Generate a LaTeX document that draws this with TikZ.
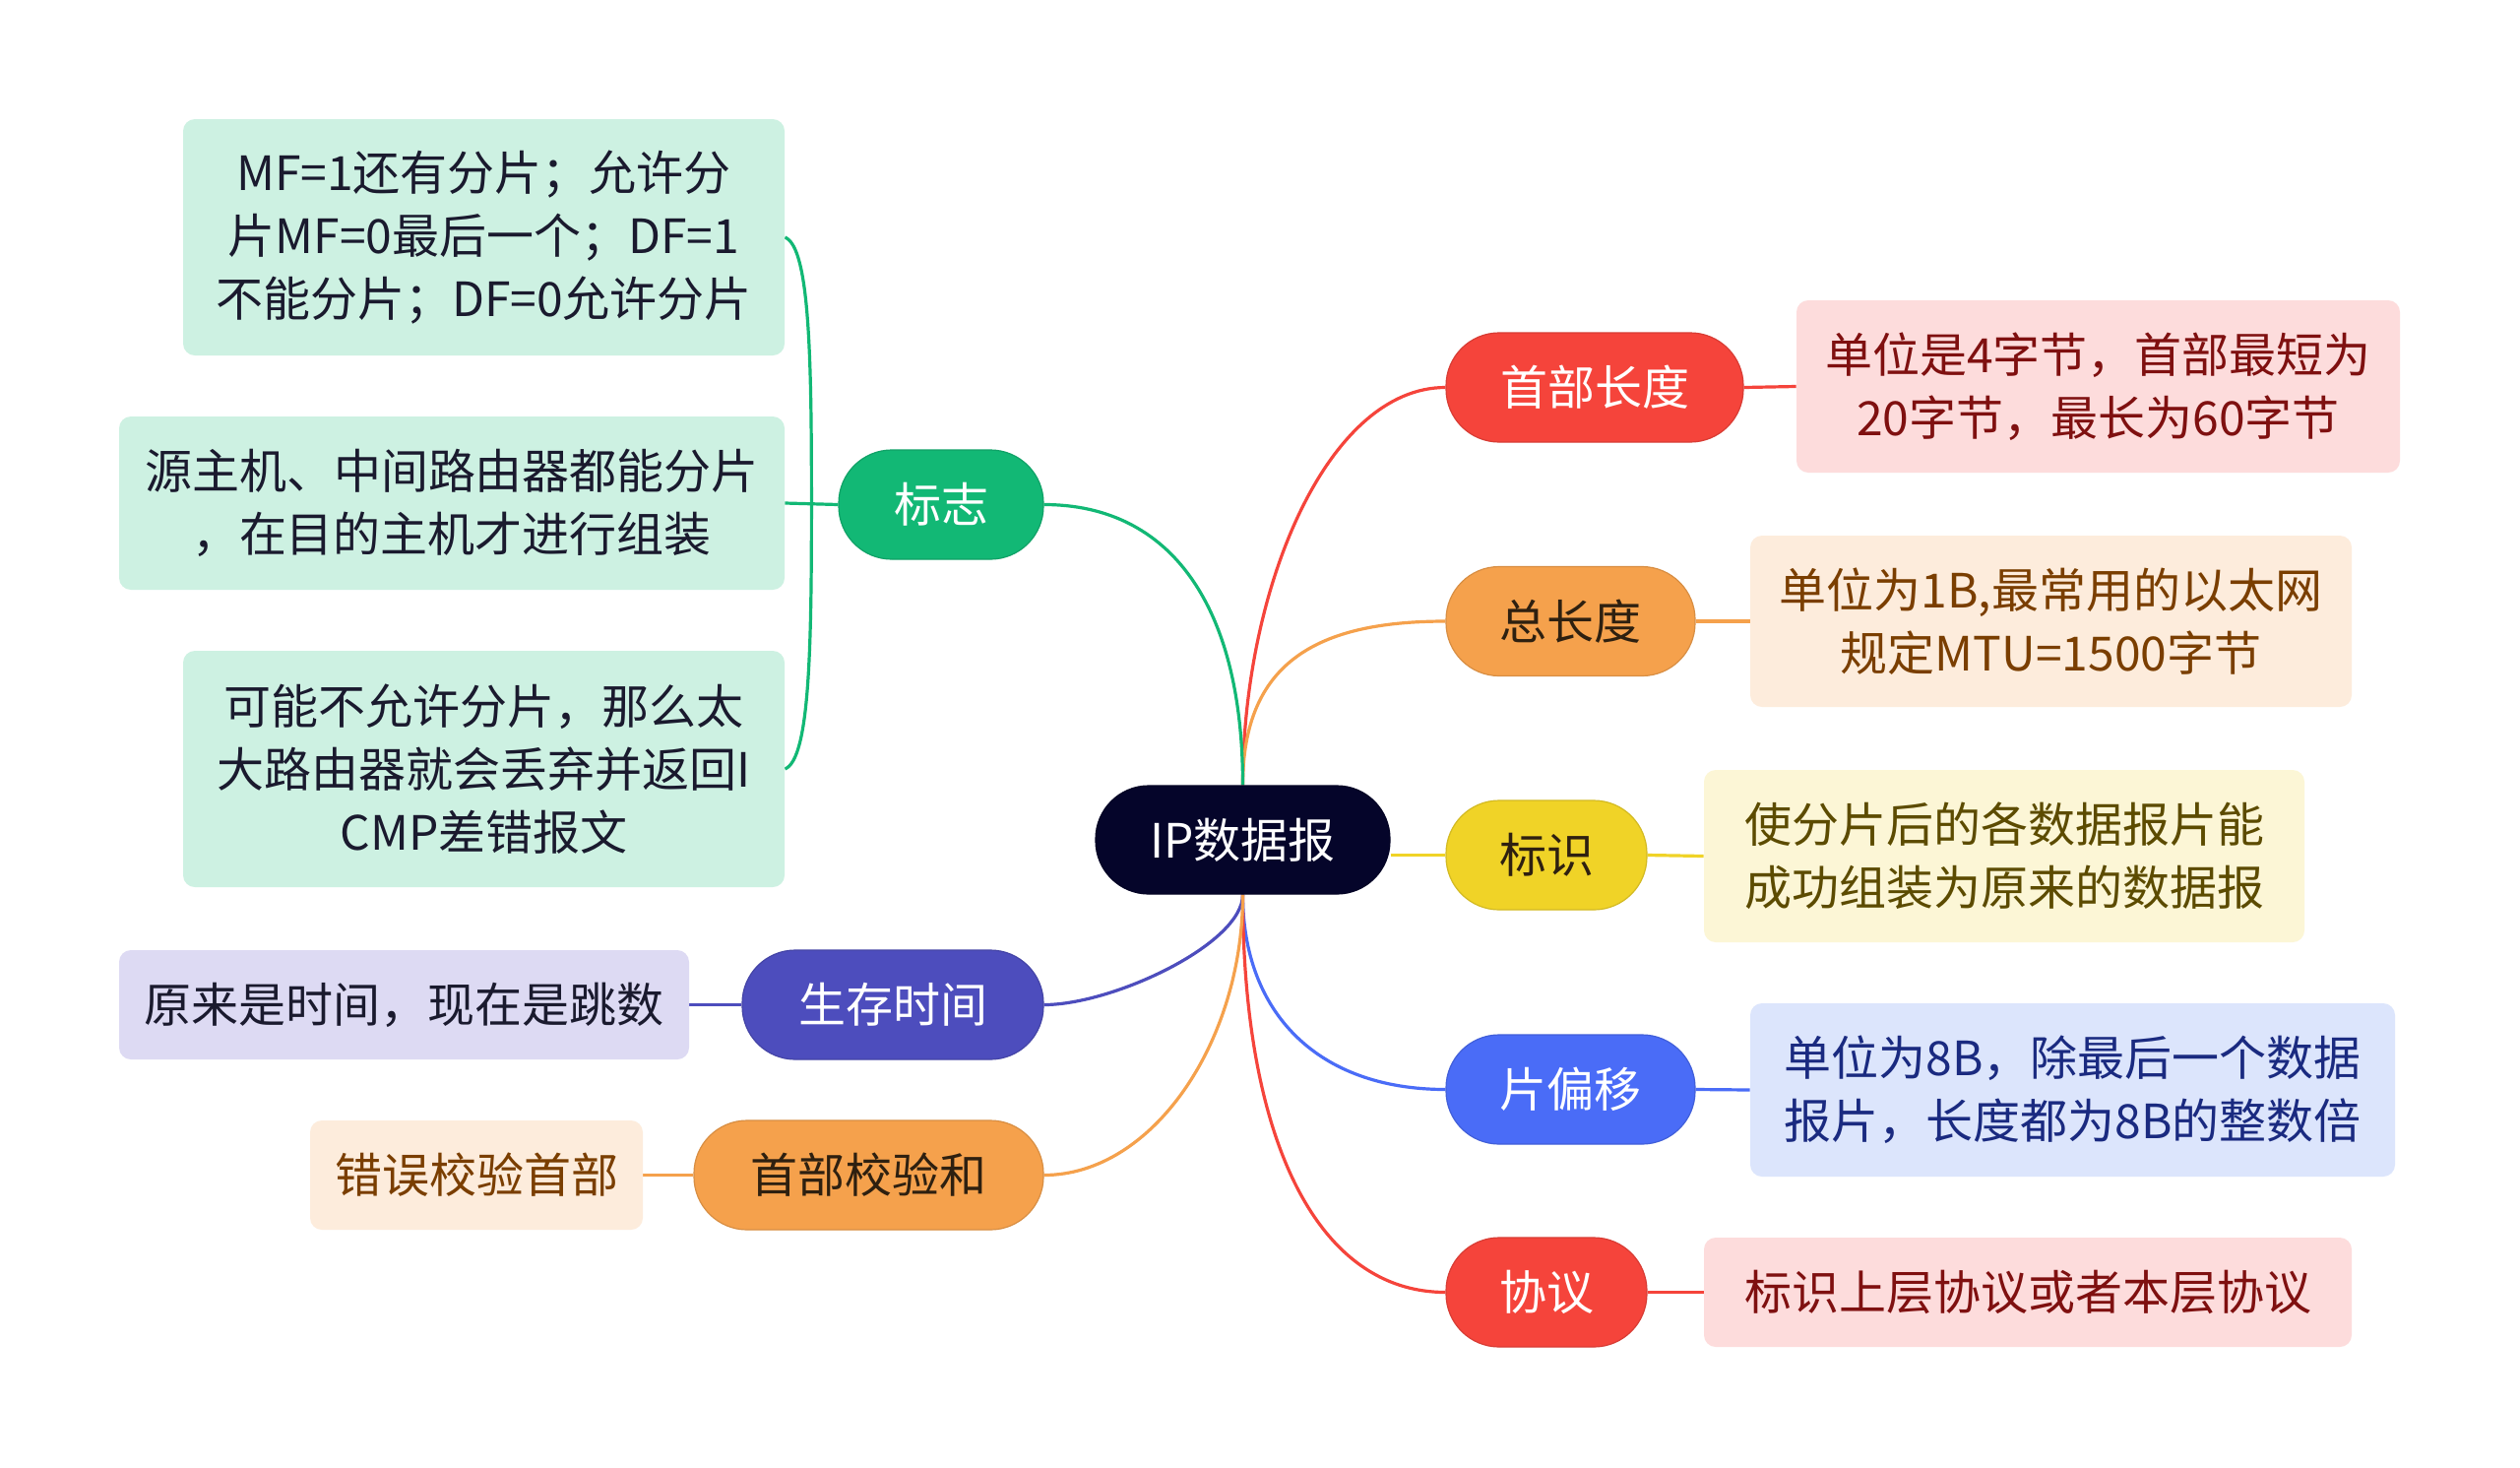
\documentclass[tikz,border=0pt]{standalone}
\usepackage{fontspec}
\setmainfont{Noto Sans CJK SC}
\usetikzlibrary{calc,backgrounds}
\definecolor{cCenter}{HTML}{05052A}
\definecolor{cRed}{HTML}{F5443B}
\definecolor{cOrange}{HTML}{F5A14C}
\definecolor{cYellow}{HTML}{F0D327}
\definecolor{cBlue}{HTML}{4A6CF7}
\definecolor{cGreen}{HTML}{12B875}
\definecolor{cPurple}{HTML}{4D4DBD}
\definecolor{lRed}{HTML}{FDDCDC}
\definecolor{lOrange}{HTML}{FDECDC}
\definecolor{lYellow}{HTML}{FCF6D6}
\definecolor{lBlue}{HTML}{DCE5FC}
\definecolor{lGreen}{HTML}{CDF1E2}
\definecolor{lPurple}{HTML}{DDDAF3}
\definecolor{tRed}{HTML}{7F1010}
\definecolor{tBrown}{HTML}{7A3E00}
\definecolor{tOlive}{HTML}{5C4B00}
\definecolor{tNavy}{HTML}{1A2A80}
\definecolor{tDark}{HTML}{1A1A2E}
\definecolor{tPill}{HTML}{2E2010}
\tikzset{
  pill/.style={rectangle, rounded corners=27pt, minimum height=55.5pt, inner sep=0pt,
    font=\fontsize{24}{32}\selectfont, draw=#1!88!black, line width=0.6pt, fill=#1},
  leaf/.style={rectangle, rounded corners=6pt, inner sep=0pt, align=center,
    font=\fontsize{24}{32}\selectfont, fill=#1},
  conn/.style={line width=1.6pt, draw=#1},
}
\begin{document}
\begin{tikzpicture}[x=0.5pt,y=-0.5pt]
\useasboundingbox (0,0) rectangle (2560,1490);

% center
\node[pill=cCenter, minimum width=149.5pt, minimum height=55pt, text=white] (c) at (1262.5,853) {IP数据报};

% right pills
\node[pill=cRed, minimum width=151pt, text=white] (n1) at (1620,393.5) {首部长度};
\node[pill=cOrange, minimum width=126.5pt, text=tPill] (n2) at (1595.5,631) {总长度};
\node[pill=cYellow, minimum width=102pt, text=tPill] (n3) at (1571,868.5) {标识};
\node[pill=cBlue, minimum width=126.5pt, text=white] (n4) at (1595.5,1106.5) {片偏移};
\node[pill=cRed, minimum width=102pt, text=white] (n5) at (1571,1312.5) {协议};

% left pills
\node[pill=cGreen, minimum width=104pt, text=white] (m1) at (956,512.5) {标志};
\node[pill=cPurple, minimum width=153pt, text=white] (m2) at (907,1020.5) {生存时间};
\node[pill=cOrange, minimum width=177.5pt, text=tPill] (m3) at (882.5,1193.5) {首部校验和};

% right leaves
\node[leaf=lRed, minimum width=306.5pt, minimum height=87.5pt, text=tRed] (r1) at (2131.5,392.5) {单位是4字节，首部最短为\\20字节，最长为60字节};
\node[leaf=lOrange, minimum width=305.5pt, minimum height=87pt, text=tBrown] (r2) at (2083.5,631) {单位为1B,最常用的以太网\\规定MTU=1500字节};
\node[leaf=lYellow, minimum width=305pt, minimum height=87.5pt, text=tOlive] (r3) at (2036,869.5) {使分片后的各数据报片能\\成功组装为原来的数据报};
\node[leaf=lBlue, minimum width=327.5pt, minimum height=88pt, text=tNavy] (r4) at (2105.5,1107) {单位为8B，除最后一个数据\\报片，长度都为8B的整数倍};
\node[leaf=lRed, minimum width=329pt, minimum height=55.5pt, text=tRed] (r5) at (2060,1312.5) {标识上层协议或者本层协议};

% left leaves
\node[leaf=lGreen, minimum width=305.5pt, minimum height=120pt, text=tDark] (l1) at (491.5,241) {MF=1还有分片；允许分\\片MF=0最后一个；DF=1\\不能分片；DF=0允许分片};
\node[leaf=lGreen, minimum width=338pt, minimum height=88pt, text=tDark] (l2) at (459,511) {源主机、中间路由器都能分片\\，在目的主机才进行组装};
\node[leaf=lGreen, minimum width=305.5pt, minimum height=120pt, text=tDark] (l3) at (491.5,781) {可能不允许分片，那么太\\大路由器就会丢弃并返回I\\CMP差错报文};
\node[leaf=lPurple, minimum width=289.5pt, minimum height=55.5pt, text=tDark] (l4) at (410.5,1020.5) {原来是时间，现在是跳数};
\node[leaf=lOrange, minimum width=169pt, minimum height=55.5pt, text=tBrown] (l5) at (484,1193.5) {错误校验首部};

\begin{scope}[on background layer]
\fill[white] (0,0) rectangle (2560,1490);
% center connectors
\draw[conn=cRed] (c.north) .. controls +(0,-200) and +(-120,0) .. (n1.west);
\draw[conn=cOrange] (c.north) .. controls +(0,-125) and +(-130,0) .. (n2.west);
\draw[conn=cYellow] (n3.west -| c.east) -- (n3.west);
\draw[conn=cBlue] (c.south) .. controls +(0,120) and +(-130,0) .. (n4.west);
\draw[conn=cRed] (c.south) .. controls +(0,250) and +(-130,0) .. (n5.west);
\draw[conn=cGreen] (c.north) .. controls +(0,-180) and +(130,0) .. (m1.east);
\draw[conn=cPurple] (c.south) .. controls +(0,50) and +(70,0) .. (m2.east);
\draw[conn=cOrange] (c.south) .. controls +(0,150) and +(110,0) .. (m3.east);
% pill to leaf
\draw[conn=cRed] (n1.east) -- (r1.west);
\draw[conn=cOrange] (n2.east) -- (r2.west);
\draw[conn=cYellow] (n3.east) -- (r3.west);
\draw[conn=cBlue] (n4.east) -- (r4.west);
\draw[conn=cRed] (n5.east) -- (r5.west);
\draw[conn=cPurple] (m2.west) -- (l4.east);
\draw[conn=cOrange] (m3.west) -- (l5.east);
% brace for 标志
\coordinate (bm) at ($(l2.east)+(27,0)$);
\draw[conn=cGreen] (l1.east) .. controls +(25,10) and +(0,-150) .. (bm) .. controls +(0,150) and +(25,-10) .. (l3.east);
\draw[conn=cGreen] (l2.east) -- (m1.west);
\end{scope}
\end{tikzpicture}
\end{document}
